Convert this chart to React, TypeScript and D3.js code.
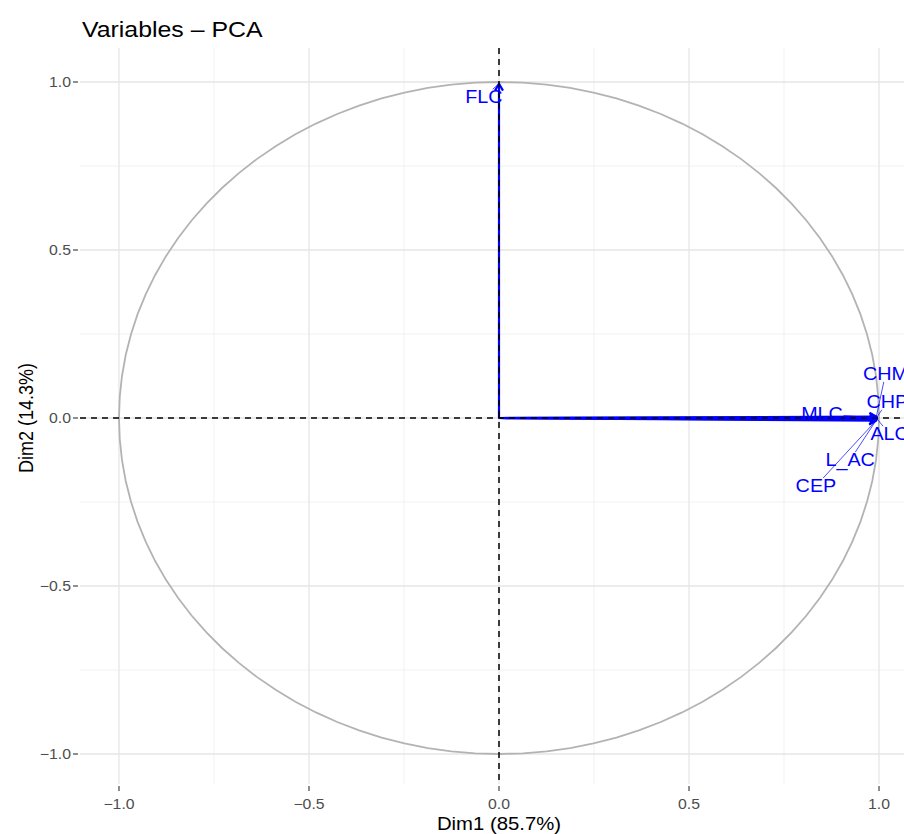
import React, { useRef, useEffect } from 'react';
import * as d3 from 'd3';

// Variable coordinates on Dim1 / Dim2
const varNames = ['FLC', 'MLC', 'CHM', 'CHP', 'ALC', 'L_AC', 'CEP'];
const dim1 = [0.0, 0.995, 0.993, 0.994, 0.995, 0.993, 0.992];
const dim2 = [0.995, 0.0, 0.004, 0.002, -0.003, -0.006, -0.008];
// repelled label positions (data units)
const labelX = [-0.04, 0.85, 1.017, 1.022, 1.028, 0.924, 0.834];
const labelY = [0.955, 0.012, 0.131, 0.048, -0.048, -0.125, -0.202];

const majorTicks = [-1, -0.5, 0, 0.5, 1];
const minorTicks = [-0.75, -0.25, 0.25, 0.75];

const title = 'Variables – PCA';
const xTitle = 'Dim1 (85.7%)';
const yTitle = 'Dim2 (14.3%)';

const FONT = '"Liberation Sans", Arial, Helvetica, sans-serif';
const STRETCH = 1.13; // picture is wider than tall, text too

const App = () => {
    const ref = useRef<SVGSVGElement | null>(null);

    useEffect(() => {
        if (!ref.current) return;
        const svg = d3.select(ref.current);
        svg.selectAll('*').remove();

        const panel = { left: 80, top: 48, right: 918, bottom: 784 };

        const x = d3.scaleLinear().domain([-1.1026, 1.1026]).range([panel.left, panel.right]);
        const y = d3.scaleLinear().domain([-1.0893, 1.1012]).range([panel.bottom, panel.top]);

        // text helper with horizontal stretch
        const addText = (parent: any, px: number, py: number, str: string, size: number,
                         anchor: string, fill: string, extra = '') =>
            parent.append('text')
                .attr('transform', `translate(${px},${py}) scale(${STRETCH},1)${extra}`)
                .attr('text-anchor', anchor)
                .attr('font-family', FONT)
                .attr('font-size', size)
                .attr('fill', fill)
                .text(str);

        svg.append('defs').append('clipPath').attr('id', 'panelClip')
            .append('rect')
            .attr('x', panel.left).attr('y', panel.top)
            .attr('width', panel.right - panel.left).attr('height', panel.bottom - panel.top);

        const g = svg.append('g').attr('clip-path', 'url(#panelClip)');

        // grid
        minorTicks.forEach(t => {
            g.append('line').attr('x1', x(t)).attr('x2', x(t)).attr('y1', panel.top).attr('y2', panel.bottom)
                .attr('stroke', '#EBEBEB').attr('stroke-width', 0.7);
            g.append('line').attr('y1', y(t)).attr('y2', y(t)).attr('x1', panel.left).attr('x2', panel.right)
                .attr('stroke', '#EBEBEB').attr('stroke-width', 0.7);
        });
        majorTicks.forEach(t => {
            g.append('line').attr('x1', x(t)).attr('x2', x(t)).attr('y1', panel.top).attr('y2', panel.bottom)
                .attr('stroke', '#E6E6E6').attr('stroke-width', 1.3);
            g.append('line').attr('y1', y(t)).attr('y2', y(t)).attr('x1', panel.left).attr('x2', panel.right)
                .attr('stroke', '#E6E6E6').attr('stroke-width', 1.3);
        });

        // correlation circle
        const circ = d3.range(0, 101).map(i => (i / 100) * 2 * Math.PI);
        g.append('path')
            .datum(circ)
            .attr('fill', 'none')
            .attr('stroke', '#B3B3B3')
            .attr('stroke-width', 1.8)
            .attr('d', d3.line<number>().x(a => x(Math.cos(a))).y(a => y(Math.sin(a))));

        const blue = '#0000FF';

        // arrows
        varNames.forEach((n, i) => {
            const x0 = x(0), y0 = y(0), x1 = x(dim1[i]), y1 = y(dim2[i]);
            g.append('line').attr('x1', x0).attr('y1', y0).attr('x2', x1).attr('y2', y1)
                .attr('stroke', blue).attr('stroke-width', 2.2);
            const ang = Math.atan2(y1 - y0, x1 - x0);
            const len = 8, spread = Math.PI / 6;
            const p = [
                [x1 - len * Math.cos(ang - spread), y1 - len * Math.sin(ang - spread)],
                [x1, y1],
                [x1 - len * Math.cos(ang + spread), y1 - len * Math.sin(ang + spread)]
            ];
            g.append('path').attr('d', d3.line()(p as [number, number][]))
                .attr('fill', 'none').attr('stroke', blue).attr('stroke-width', 2.2)
                .attr('stroke-linejoin', 'round');
        });

        // reference lines
        g.append('line').attr('x1', x(0)).attr('x2', x(0)).attr('y1', panel.top).attr('y2', panel.bottom)
            .attr('stroke', '#000').attr('stroke-width', 1.5).attr('stroke-dasharray', '6,5');
        g.append('line').attr('y1', y(0)).attr('y2', y(0)).attr('x1', panel.left).attr('x2', panel.right)
            .attr('stroke', '#000').attr('stroke-width', 1.5).attr('stroke-dasharray', '6,5');

        // labels + repel segments
        const fs = 17.5;
        varNames.forEach((n, i) => {
            const cx = x(labelX[i]), cy = y(labelY[i]);
            const tx = x(dim1[i]), ty = y(dim2[i]);
            const hw = (n.length * fs * 0.33) * STRETCH + 2, hh = fs * 0.45;
            const dx = tx - cx, dy = ty - cy;
            const dist = Math.hypot(dx, dy);
            const s = Math.min(hw / Math.abs(dx || 1e-9), hh / Math.abs(dy || 1e-9));
            if (s < 1 && dist > 12) {
                g.append('line')
                    .attr('x1', cx + dx * s).attr('y1', cy + dy * s)
                    .attr('x2', tx).attr('y2', ty)
                    .attr('stroke', blue).attr('stroke-width', 0.7);
            }
            addText(g, cx, cy + fs * 0.35, n, fs, 'middle', blue);
        });

        // axes ticks and labels
        const fmt = (v: number) => d3.format('.1f')(v).replace('-', '\u2212');
        majorTicks.forEach(t => {
            svg.append('line').attr('x1', x(t)).attr('x2', x(t)).attr('y1', panel.bottom + 2).attr('y2', panel.bottom + 7)
                .attr('stroke', '#333').attr('stroke-width', 1.1);
            addText(svg, x(t), panel.bottom + 25, fmt(t), 14, 'middle', '#4D4D4D');
            svg.append('line').attr('y1', y(t)).attr('y2', y(t)).attr('x1', panel.left - 7).attr('x2', panel.left - 2)
                .attr('stroke', '#333').attr('stroke-width', 1.1);
            addText(svg, panel.left - 9, y(t) + 5, fmt(t), 14, 'end', '#4D4D4D');
        });

        addText(svg, x(0), 830, xTitle, 18, 'middle', '#000');
        svg.append('text')
            .attr('transform', `translate(33,${y(0)}) scale(${STRETCH},1) rotate(-90)`)
            .attr('text-anchor', 'middle').attr('font-family', FONT).attr('font-size', 18)
            .attr('fill', '#000').text(yTitle);

        addText(svg, panel.left + 2, 37, title, 22, 'start', '#000');
    }, []);

    return (
        <div style={{ position: 'absolute', left: 0, top: 0 }}>
            <svg ref={ref} width={904} height={834} style={{ display: 'block', background: '#fff' }} />
        </div>
    );
};

export default App;
